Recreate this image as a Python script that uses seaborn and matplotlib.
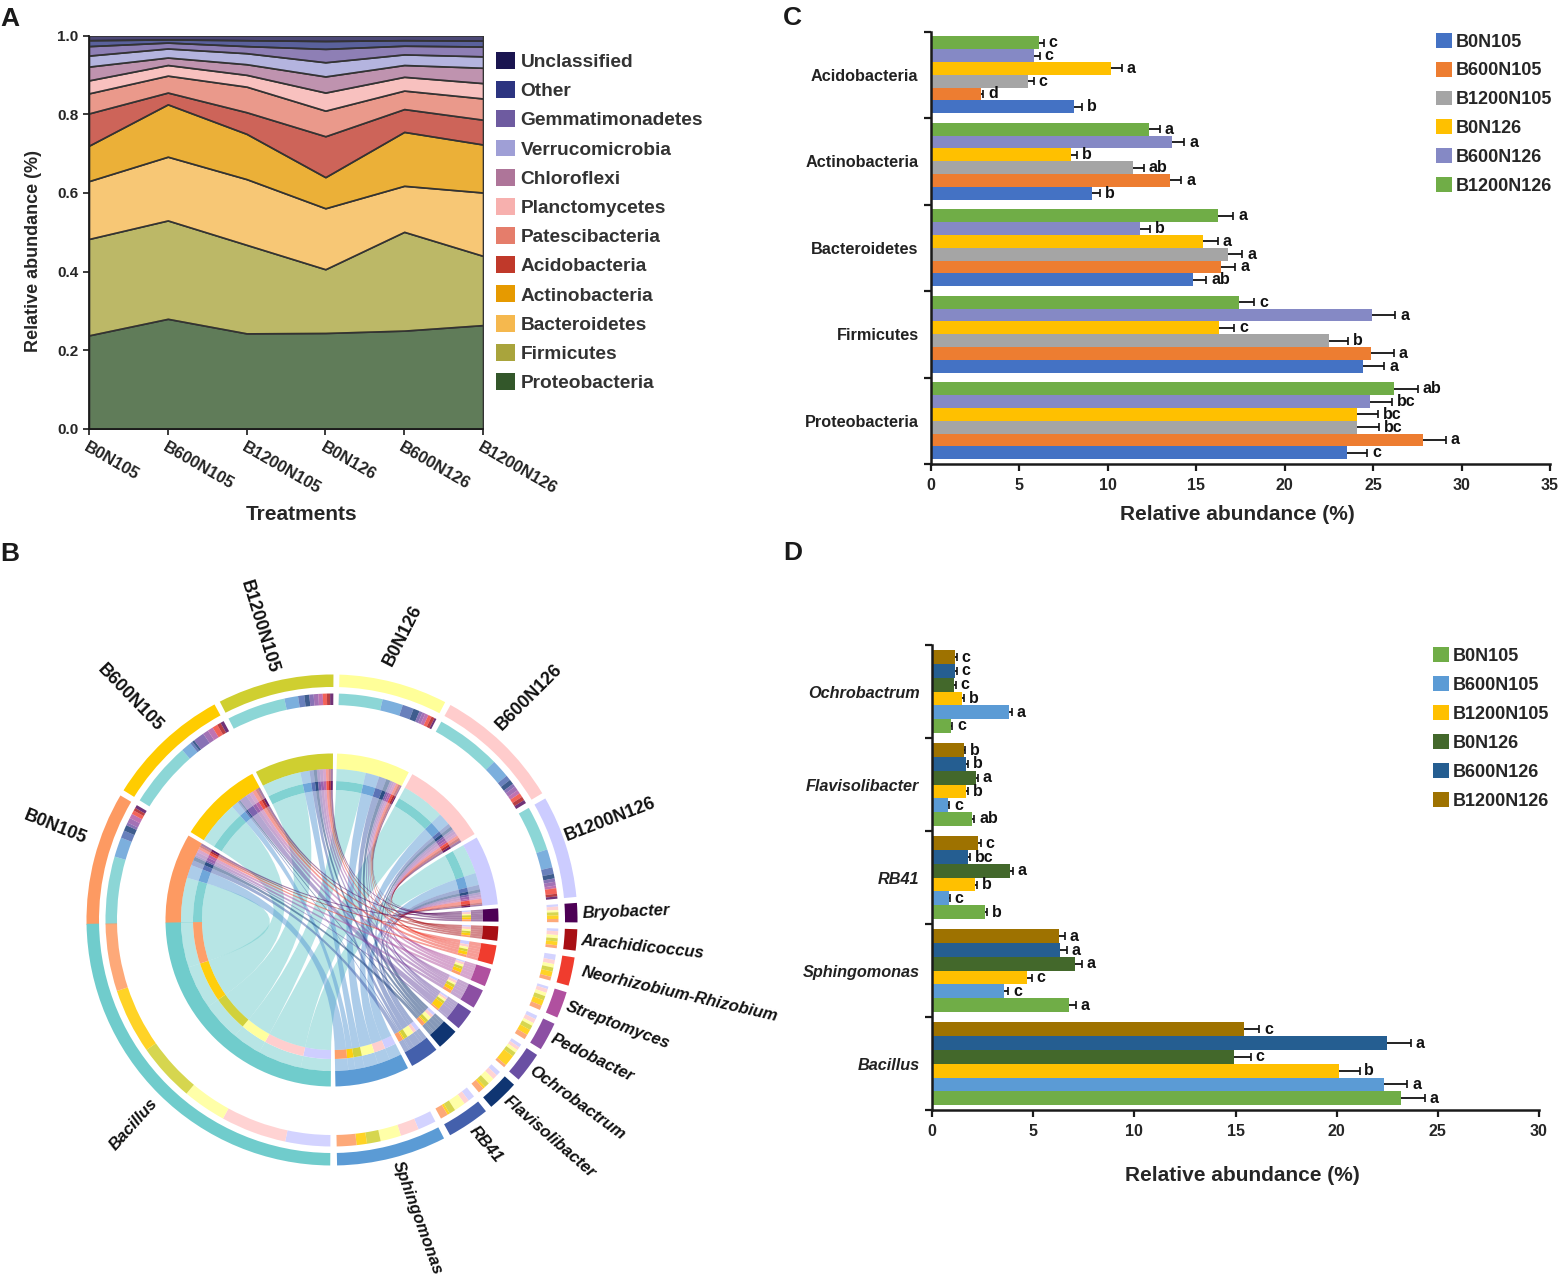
import numpy as np
import pandas as pd
import matplotlib
matplotlib.use("Agg")
import matplotlib.pyplot as plt
from matplotlib.patches import Wedge, PathPatch, Patch
from matplotlib.path import Path
from matplotlib.transforms import ScaledTranslation
from matplotlib.colors import to_rgba
import seaborn as sns

# ---------------------------------------------------------------- data
treatments = ["B0N105", "B600N105", "B1200N105", "B0N126", "B600N126", "B1200N126"]

# Panel A: phylum layers, bottom to top
phyla_a = ["Proteobacteria", "Firmicutes", "Bacteroidetes", "Actinobacteria", "Acidobacteria",
           "Patescibacteria", "Planctomycetes", "Chloroflexi", "Verrucomicrobia",
           "Gemmatimonadetes", "Other", "Unclassified"]
a_proteo = [.238, .280, .243, .244, .250, .264]
a_firm = [.245, .250, .225, .162, .251, .176]
a_bact = [.147, .162, .167, .155, .117, .161]
a_actino = [.090, .133, .115, .079, .137, .122]
a_acido = [.082, .030, .055, .104, .058, .063]
a_pates = [.051, .043, .065, .065, .047, .054]
a_planc = [.033, .027, .030, .046, .035, .039]
a_chlor = [.035, .019, .027, .041, .030, .039]
a_verr = [.028, .023, .028, .036, .027, .029]
a_gemm = [.024, .015, .018, .034, .022, .025]
a_other = [.015, .008, .015, .020, .014, .015]
a_uncl = [.012, .010, .012, .014, .012, .013]
layers_a = [a_proteo, a_firm, a_bact, a_actino, a_acido, a_pates, a_planc, a_chlor, a_verr, a_gemm, a_other, a_uncl]
colors_a = ["#33572a", "#a9a43c", "#f5b84e", "#e69a00", "#c0392a", "#e57d6b",
            "#f7b0ae", "#ae7599", "#9f9fd6", "#6e5ba0", "#2c3480", "#1a1550"]

# Panel C, bottom to top
phyla_c = ["Proteobacteria", "Firmicutes", "Bacteroidetes", "Actinobacteria", "Acidobacteria"]
c_B0N105 = [23.5, 24.4, 14.8, 9.1, 8.1]
c_B600N105 = [27.8, 24.9, 16.4, 13.5, 2.8]
c_B1200N105 = [24.1, 22.5, 16.8, 11.4, 5.5]
c_B0N126 = [24.1, 16.3, 15.4, 7.9, 10.2]
c_B600N126 = [24.8, 24.95, 11.8, 13.6, 5.85]
c_B1200N126 = [26.2, 17.4, 16.2, 12.3, 6.1]
c_values = [c_B0N105, c_B600N105, c_B1200N105, c_B0N126, c_B600N126, c_B1200N126]
c_err = [[1.18, 1.24, .76, .45, .42], [1.32, 1.26, .8, .65, .15], [1.24, 1.1, .8, .65, .3],
         [1.2, .85, .8, .37, .6], [1.27, 1.3, .6, .73, .3], [1.32, .87, .9, .65, .28]]
c_letters = [["c", "a", "ab", "b", "b"], ["a", "a", "a", "a", "d"], ["bc", "b", "a", "ab", "c"],
             ["bc", "c", "a", "b", "a"], ["bc", "a", "b", "a", "c"], ["ab", "c", "a", "a", "c"]]
colors_c = ["#4472c4", "#ed7d31", "#a5a5a5", "#ffc000", "#8589c5", "#70ad47"]

# Panel D, bottom to top
genera_d = ["Bacillus", "Sphingomonas", "RB41", "Flavisolibacter", "Ochrobactrum"]
d_B0N105 = [23.2, 6.75, 2.6, 2.0, .95]
d_B600N105 = [22.35, 3.57, .83, .8, 3.8]
d_B1200N105 = [20.1, 4.7, 2.13, 1.69, 1.47]
d_B0N126 = [14.95, 7.07, 3.86, 2.18, 1.1]
d_B600N126 = [22.5, 6.35, 1.78, 1.69, 1.15]
d_B1200N126 = [15.4, 6.26, 2.27, 1.56, 1.15]
d_values = [d_B0N105, d_B600N105, d_B1200N105, d_B0N126, d_B600N126, d_B1200N126]
d_err = [[1.17, .37, .12, .1, .05], [1.15, .2, .05, .05, .15], [1.03, .22, .1, .1, .1],
         [.8, .34, .15, .08, .07], [1.15, .3, .1, .1, .08], [.78, .3, .13, .08, .08]]
d_letters = [["a", "a", "b", "ab", "c"], ["a", "c", "c", "c", "a"], ["b", "c", "b", "b", "b"],
             ["c", "a", "a", "a", "c"], ["a", "a", "bc", "b", "c"], ["c", "a", "c", "b", "c"]]
colors_d = ["#70ad47", "#5b9bd5", "#ffc000", "#43682b", "#255e91", "#9e7200"]

# Panel B: links treatment -> genus (five genera above plus these five)
genera_extra = ["Pedobacter", "Streptomyces", "Neorhizobium-Rhizobium", "Arachidicoccus", "Bryobacter"]
e_B0N105 = [1.7, 1.6, 1.3, 1.0, 1.1]
e_B600N105 = [1.9, 1.9, 1.8, 1.3, 1.2]
e_B1200N105 = [1.6, 1.5, 1.4, 1.1, 1.1]
e_B0N126 = [1.0, 1.2, 1.2, 1.1, 0.7]
e_B600N126 = [1.5, 1.3, 1.4, 1.3, 1.2]
e_B1200N126 = [1.3, 0.9, 1.9, 0.9, 0.8]
e_values = [e_B0N105, e_B600N105, e_B1200N105, e_B0N126, e_B600N126, e_B1200N126]
chord_genera = genera_d + genera_extra
colors_treat = ["#fd9a62", "#ffcc00", "#cfcf30", "#ffff99", "#ffcccc", "#ccccff"]
colors_genus = ["#70cccc", "#5b9bd5", "#4460ac", "#0f3572", "#6a4fa3",
                "#8c4fa3", "#b0509f", "#f03c2e", "#a80f14", "#4d0055"]

# Panel B label placement in picture pixels: centre x, centre y, rotation
treat_labels = [(55, 827, -22), (130, 698, -46), (259, 627, -73),
                (403, 635, 63), (529, 697, 45), (610, 820, 21)]
genus_labels = [(134, 1124, 48), (417, 1218, -70), (486, 1144, -50), (550, 1137, -41), (577, 1103, -36),
                (592, 1058, -26), (618, 1025, -20.5), (680, 994, -13), (642, 947, -6), (626, 912, 2)]

# ---------------------------------------------------------------- setup
sns.set_theme(style="ticks")
plt.rcParams["font.family"] = ["Liberation Sans", "DejaVu Sans"]
plt.rcParams["font.weight"] = "bold"
W, H = 1565, 1279
fig = plt.figure(figsize=(W / 100, H / 100), dpi=100, facecolor="white")


def px_axes(l, t, r, b):
    return fig.add_axes([l / W, 1 - b / H, (r - l) / W, (b - t) / H])


def px_fig(x, y):
    return (x / W, 1 - y / H)


def make_legend(ax, labels, colors, x, y, size, spacing, box, textpad=0.3):
    handles = [Patch(facecolor=c, edgecolor="none") for c in colors]
    ax.legend(handles, labels, loc="upper left", bbox_to_anchor=px_fig(x, y),
              bbox_transform=fig.transFigure, frameon=False, borderpad=0, borderaxespad=0,
              prop=dict(family="Liberation Sans", weight="bold", size=size),
              handlelength=box, handleheight=box, handletextpad=textpad, labelspacing=spacing)


# ---------------------------------------------------------------- panel A
ax = px_axes(89, 35.5, 483, 429)
polys = ax.stackplot(np.arange(6), *layers_a, colors=colors_a)
for poly, c in zip(polys, colors_a):
    poly.set_facecolor(to_rgba(c, 0.78))
    poly.set_edgecolor("#333333")
    poly.set_linewidth(1.2)
ax.set_xlim(0, 5)
ax.set_ylim(0, 1)
ax.set_yticks(np.arange(0, 1.01, .2))
ax.set_yticklabels([f"{v:.1f}" for v in np.arange(0, 1.01, .2)], fontsize=11, fontweight="bold")
ax.set_xticks(np.arange(6))
ax.set_xticklabels(treatments, rotation=-30, ha="left", va="top", rotation_mode="anchor",
                   fontsize=12, fontweight="bold", color="#222222")
off = ScaledTranslation(-8 / 100, -2 / 100, fig.dpi_scale_trans)
for lab in ax.get_xticklabels():
    lab.set_transform(lab.get_transform() + off)
ax.tick_params(length=4.5, width=1.2, color="k", pad=3)
ax.set_xlabel("Treatments", fontsize=15, fontweight="bold")
ax.xaxis.set_label_coords(.54, -.193)
ax.set_ylabel("Relative abundance (%)", fontsize=13, fontweight="bold")
ax.yaxis.set_label_coords(-.12, .452)
sns.despine(ax=ax)
for s in ax.spines.values():
    s.set_linewidth(1.3)
    s.set_color("k")
    s.set_zorder(5)
make_legend(ax, phyla_a[::-1], colors_a[::-1], 496, 52, 13.8, 0.53, 0.98)
for t in ax.get_legend().get_texts():
    t.set_color("#333333")


# ---------------------------------------------------------------- panels C, D
def bar_panel(box, cats, values, errs, letters, colors, xmax, xstep, italic, pad, lbl_y, lbl_x, leg, spacing):
    ax = px_axes(*box)
    df = pd.DataFrame([(c, treatments[i], values[i][j]) for i in range(6) for j, c in enumerate(cats)],
                      columns=["group", "treatment", "value"])
    sns.barplot(data=df, y="group", x="value", hue="treatment", order=cats, hue_order=treatments,
                palette=colors, width=0.887, gap=0, saturation=1, orient="h", legend=False,
                ax=ax, edgecolor="none", linewidth=0)
    ax.set_ylim(-.5, len(cats) - .5)
    ax.set_xlim(0, xmax)
    for i, cont in enumerate(list(ax.containers)):
        ys = [p.get_y() + p.get_height() / 2 for p in cont]
        _, caps, _ = ax.errorbar(values[i], ys, xerr=[np.zeros(len(cats)), errs[i]], fmt="none",
                                 ecolor="#111111", elinewidth=1.3, capsize=2.7, capthick=1.2, zorder=3)
        caps[0].set_visible(False)
        for v, e, y, l in zip(values[i], errs[i], ys, letters[i]):
            ax.annotate(l, xy=(v + e, y), xytext=(3.5, 0), textcoords="offset points",
                        va="center", ha="left", fontsize=11.5, fontweight="bold", color="#111111")
    ax.set_xticks(np.arange(0, xmax + .1, xstep))
    ax.set_xticklabels([str(int(v)) for v in np.arange(0, xmax + .1, xstep)], fontsize=11.5, fontweight="bold")
    ax.set_yticks(np.arange(-.5, len(cats)))
    ax.set_yticklabels([])
    ax.set_yticks(np.arange(len(cats)), minor=True)
    ax.set_yticklabels(cats, minor=True, fontsize=11.7, fontweight="bold",
                       fontstyle="italic" if italic else "normal", color="#222222")
    ax.tick_params(axis="y", which="minor", length=0, pad=pad)
    ax.tick_params(axis="y", which="major", length=5, width=1.6, color="k")
    ax.tick_params(axis="x", length=5, width=1.6, color="k", pad=5)
    ax.set_xlabel("Relative abundance (%)", fontsize=15, fontweight="bold", labelpad=lbl_y)
    ax.xaxis.label.set_x(lbl_x)
    ax.set_ylabel("")
    sns.despine(ax=ax)
    for s in ("left", "bottom"):
        ax.spines[s].set_linewidth(1.8)
        ax.spines[s].set_color("k")
    make_legend(ax, treatments, colors, leg[0], leg[1], 13, spacing, 0.88, textpad=0.21)
    return ax


bar_panel((931, 31.5, 1550, 464), phyla_c, c_values, c_err, c_letters, colors_c, 35, 5, False, 9, 9, .495, (1436, 33), .62)
bar_panel((932, 645, 1539, 1110.3), genera_d, d_values, d_err, d_letters, colors_d, 30, 5, True, 9, 19, .511, (1433, 647), .635)

# ---------------------------------------------------------------- panel B
cx, cy = 332, 920
ax = px_axes(0, 535, 780, 1279)
ax.set_xlim(-cx, 780 - cx)
ax.set_ylim(cy - 1279, cy - 535)
ax.axis("off")
ax.patch.set_alpha(0)

R_OUT = (233, 245.5)
R_SEC = (215, 226.5)
R_GRID = (151, 166.5)
R_BAND = (139, 151)
R_TRACK = (130, 139)
GAP_T, GAP_G, GAP_J = 1.4, 1.6, 1.4

M = np.array([d + e for d, e in zip(d_values, e_values)])  # treatments x genera
t_tot = M.sum(axis=1)
g_tot = M.sum(axis=0)
deg = (360 - 5 * GAP_T - 8 * GAP_G - 2 * GAP_J) / (t_tot.sum() + g_tot.sum())


def ring(r, a1, a2, color, alpha=1.0):
    ax.add_patch(Wedge((0, 0), r[1], min(a1, a2), max(a1, a2), width=r[1] - r[0],
                       facecolor=to_rgba(color, alpha), edgecolor="none", linewidth=0))


def polar(a, r):
    return (r * np.cos(np.radians(a)), r * np.sin(np.radians(a)))


angle = 181.1
t_seg = {}
g_seg = {}
# treatment sectors, clockwise
for i in range(6):
    a0 = angle
    ring(R_OUT, a0, a0 - t_tot[i] * deg, colors_treat[i])
    ring(R_GRID, a0, a0 - t_tot[i] * deg, colors_treat[i])
    a = a0
    for g in range(10):
        a2 = a - M[i, g] * deg
        t_seg[(i, g)] = (a, a2)
        ring(R_BAND, a, a2, colors_genus[g], .5)
        ring(R_TRACK, a, a2, colors_genus[g], .88)
        ring(R_SEC, a, a2, colors_genus[g], .8)
        a = a2
    angle = a - (GAP_T if i < 5 else GAP_J)
# genus sectors clockwise: Bryobacter ... Bacillus
for g in range(9, -1, -1):
    a0 = angle
    ring(R_OUT, a0, a0 - g_tot[g] * deg, colors_genus[g])
    ring(R_GRID, a0, a0 - g_tot[g] * deg, colors_genus[g])
    a = a0
    for i in range(5, -1, -1):
        a2 = a - M[i, g] * deg
        g_seg[(i, g)] = (a, a2)
        ring(R_BAND, a, a2, colors_genus[g], .5)
        ring(R_TRACK, a, a2, colors_treat[i], .95)
        ring(R_SEC, a, a2, colors_treat[i], .85)
        a = a2
    angle = a - GAP_G


def arc_pts(a1, a2, r, n=12):
    return [polar(t, r) for t in np.linspace(a1, a2, n)]


# ribbons
r0 = R_TRACK[0]
for g in range(10):
    for i in range(6):
        t1, t2 = t_seg[(i, g)]
        g1, g2 = g_seg[(i, g)]
        arc1 = arc_pts(t1, t2, r0)
        arc2 = arc_pts(g1, g2, r0)
        verts = arc1 + [(0, 0), arc2[0]] + arc2 + [(0, 0), arc1[0]]
        codes = [Path.MOVETO] + [Path.LINETO] * (len(arc1) - 1) + [Path.CURVE3, Path.CURVE3] + \
                [Path.LINETO] * len(arc2) + [Path.CURVE3, Path.CURVE3]
        ax.add_patch(PathPatch(Path(verts, codes), facecolor=to_rgba(colors_genus[g], .5),
                               edgecolor="none", linewidth=0))


# labels around the rings
def sector_label(name, spec, size, style):
    x, y, rot = spec
    ax.text(x - cx, cy - y, name, rotation=rot, rotation_mode="anchor", ha="center", va="center",
            fontsize=size, fontweight="bold", fontstyle=style, color="#111111")


for name, spec in zip(treatments, treat_labels):
    sector_label(name, spec, 13, "normal")
for name, spec in zip(chord_genera, genus_labels):
    sector_label(name, spec, 12, "italic")

# panel letters
for letter, (x, y) in zip("ABCD", [(0, 26), (0, 561), (783, 25), (783, 560)]):
    fig.text(*px_fig(x, y), letter, fontsize=19, fontweight="bold", color="k", ha="left", va="baseline")

fig.savefig("out.png", dpi=100)
